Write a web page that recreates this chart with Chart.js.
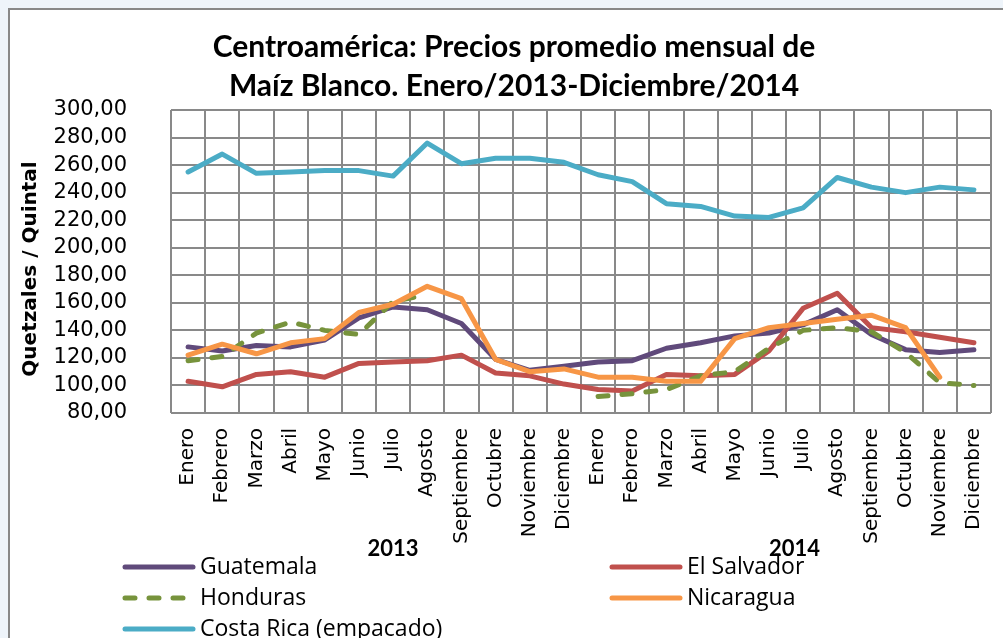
<!DOCTYPE html>
<html>
<head>
<meta charset="utf-8">
<script src="https://cdn.jsdelivr.net/npm/chart.js@4"></script>
<style>
  html, body { margin: 0; padding: 0; background: #eef4fa; overflow: hidden; }
  #marco { position: absolute; left: 8px; top: 8px; width: 1100px; height: 700px; background: #fff; border-left: 2px solid #888; border-top: 2px solid #888; }
  #myChart { position: absolute; left: 0; top: 0; }
</style>
</head>
<body>
<div id="marco"></div>
<canvas id="myChart" width="1003" height="638"></canvas>
<script>
// datos (Q / quintal)
const meses = ["Enero","Febrero","Marzo","Abril","Mayo","Junio","Julio","Agosto","Septiembre","Octubre","Noviembre","Diciembre",
               "Enero","Febrero","Marzo","Abril","Mayo","Junio","Julio","Agosto","Septiembre","Octubre","Noviembre","Diciembre"];
const anios = ["2013", "2014"];

const guatemala  = [128,125,129,128,133,149,157,155,145,119,111,114, 117,118,127,131,136,138,144,155,137,126,124,126];
const elSalvador = [103, 99,108,110,106,116,117,118,122,109,107,101,  97, 96,108,107,108,125,156,167,142,139,135,131];
const honduras   = [118,121,138,146,140,137,161,166,null,null,null,null, 92, 94, 97,107,110,127,140,142,139,124,102,100];
const nicaragua  = [122,130,123,131,134,153,159,172,163,119,110,112, 106,106,103,103,134,142,145,148,151,142,106,null];
const costaRica  = [255,268,254,255,256,256,252,276,261,265,265,262, 253,248,232,230,223,222,229,251,244,240,244,242];

const titulo = ["Centroamérica: Precios promedio mensual de", "Maíz Blanco. Enero/2013-Diciembre/2014"];
const tituloEje = "Quetzales / Quintal";

const grisGrid = "#898989";

function serie(nombre, datos, color, orden, guiones) {
  return {
    label: nombre,
    data: datos,
    borderColor: color,
    backgroundColor: color,
    borderWidth: 5,
    pointRadius: 0,
    tension: 0,
    fill: false,
    spanGaps: false,
    borderCapStyle: "round",
    borderJoinStyle: "round",
    borderDash: guiones || [],
    order: orden
  };
}

// leyenda en dos columnas + años + titulo del eje
const extras = {
  id: "extras",
  afterDraw(chart) {
    const ctx = chart.ctx;
    const x = chart.scales.x;
    ctx.save();
    ctx.fillStyle = "#000";

    // años bajo los meses
    ctx.font = "bold 22px Lato";
    ctx.textAlign = "center";
    ctx.textBaseline = "middle";
    ctx.fillText(anios[0], x.getPixelForValue(6), 549);
    ctx.fillText(anios[1], x.getPixelForValue(17.75), 549);

    // titulo eje y
    ctx.save();
    ctx.translate(31, 269);
    ctx.rotate(-Math.PI / 2);
    ctx.font = "bold 20px 'DejaVu Sans'";
    ctx.fillText(tituloEje, 0, 0);
    ctx.restore();

    // leyenda
    const colX = [123, 610];
    const filaY = [567, 598, 629];
    ctx.font = "23px 'Open Sans'";
    ctx.textAlign = "left";
    chart.data.datasets.forEach((ds, i) => {
      const cx = colX[i % 2];
      const cy = filaY[Math.floor(i / 2)];
      ctx.beginPath();
      ctx.strokeStyle = ds.borderColor;
      ctx.lineWidth = 5;
      ctx.lineCap = "round";
      ctx.setLineDash(ds.borderDash);
      ctx.moveTo(cx + 2, cy);
      ctx.lineTo(cx + 70, cy);
      ctx.stroke();
      ctx.setLineDash([]);
      ctx.fillText(ds.label, cx + 77, cy);
    });
    ctx.restore();
  }
};

var ctx = document.getElementById("myChart").getContext("2d");
var myChart = new Chart(ctx, {
  type: "line",
  data: {
    labels: meses,
    datasets: [
      serie("Guatemala", guatemala, "#604A7B", 5),
      serie("El Salvador", elSalvador, "#C0504D", 4),
      serie("Honduras", honduras, "#77933C", 3, [10, 14]),
      serie("Nicaragua", nicaragua, "#F79646", 2),
      serie("Costa Rica (empacado)", costaRica, "#4BACC6", 1)
    ]
  },
  options: {
    responsive: false,
    animation: false,
    layout: { padding: { left: 37, right: 12, top: 28, bottom: 90 } },
    plugins: {
      legend: { display: false },
      tooltip: { enabled: false },
      title: {
        display: true,
        text: titulo,
        color: "#000",
        font: { family: "Lato", size: 30, weight: "bold", lineHeight: 1.3 },
        padding: { top: 0, bottom: 4 }
      }
    },
    scales: {
      x: {
        offset: true,
        grid: { color: grisGrid, lineWidth: 2, drawTicks: false, offset: true },
        border: { display: false },
        ticks: {
          autoSkip: false, maxRotation: 90, minRotation: 90, padding: 15,
          color: "#000", font: { family: "DejaVu Sans", size: 20 }
        },
        afterFit(s) { s.height = 135; s.paddingLeft = 0; s.paddingRight = 0; }
      },
      y: {
        min: 80, max: 300,
        grid: { color: grisGrid, lineWidth: 2, drawTicks: false },
        border: { display: false },
        ticks: {
          stepSize: 20, autoSkip: false, padding: 44, color: "#000",
          font: { family: "DejaVu Sans", size: 21 },
          callback: v => v.toFixed(2).replace(".", ",")
        },
        afterFit(s) { s.width = 134; s.paddingTop = 0; s.paddingBottom = 0; }
      }
    }
  },
  plugins: [extras]
});
</script>
</body>
</html>
